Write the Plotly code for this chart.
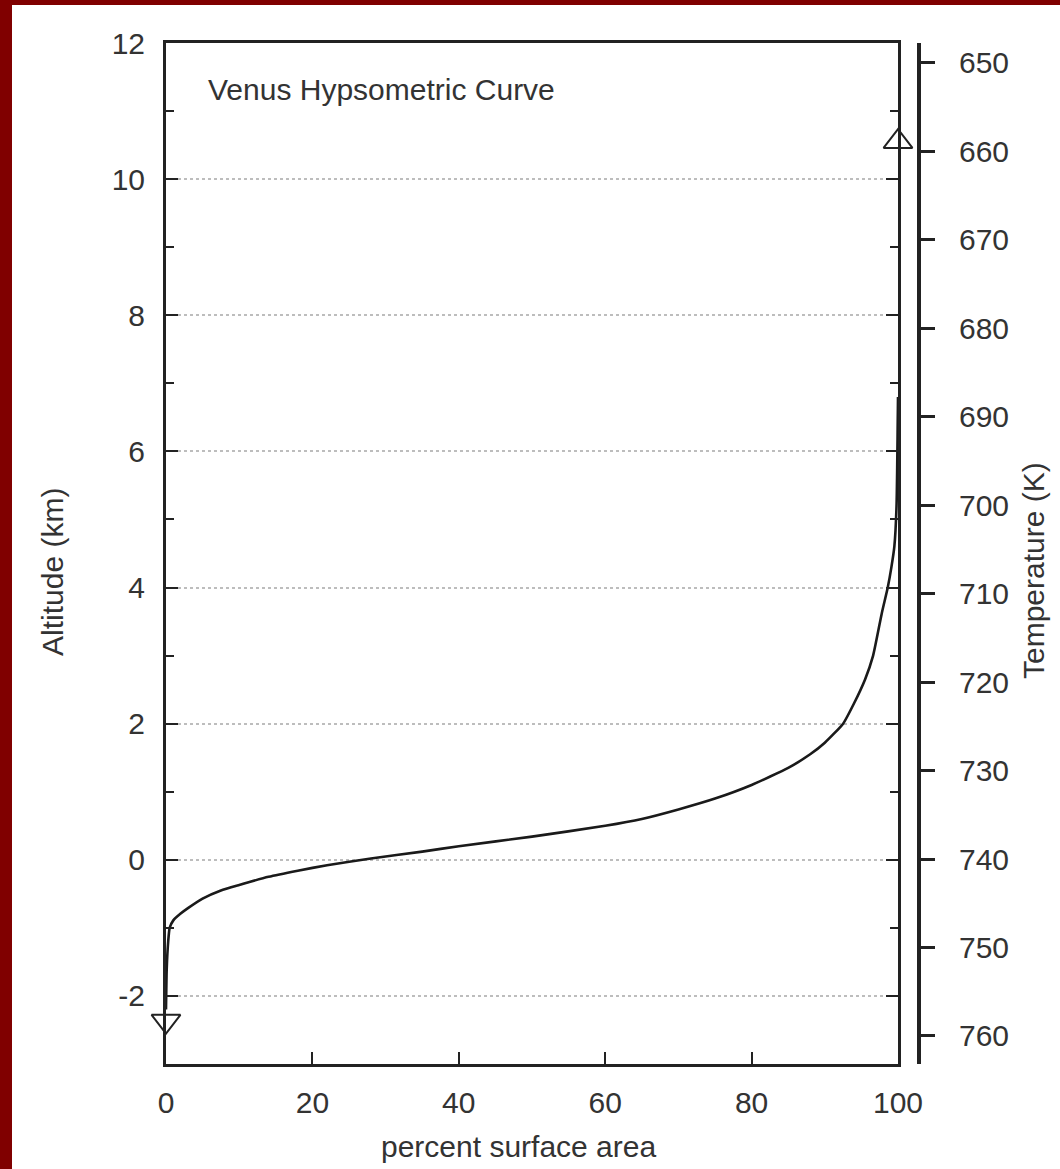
import plotly.graph_objects as go

# ---- data ----
pct_area = [0, 0.1, 0.3, 0.5, 1, 2, 3, 5, 7.5, 10, 14, 18, 22, 28, 35, 40, 50, 60, 65, 70,
            75, 80, 85, 88, 90, 92.5, 94, 95.5, 96.6, 97.8, 98.6, 99.1, 99.5, 99.8, 100]
altitude = [-2.2, -1.6, -1.2, -1.0, -0.89, -0.79, -0.71, -0.57, -0.45, -0.37, -0.25, -0.16,
            -0.08, 0.02, 0.12, 0.2, 0.34, 0.5, 0.6, 0.74, 0.9, 1.1, 1.35, 1.55, 1.72, 2.0,
            2.3, 2.65, 3.0, 3.63, 4.0, 4.3, 4.6, 5.2, 6.8]
min_marker_x = [0]
min_marker_alt = [-2.37]
max_marker_x = [100]
max_marker_alt = [10.55]
alt_ticks = [-2, 0, 2, 4, 6, 8, 10, 12]
alt_tick_labels = ["-2", "0", "2", "4", "6", "8", "10", "12"]
pct_ticks = [0, 20, 40, 60, 80, 100]
temp_ticks = [650, 660, 670, 680, 690, 700, 710, 720, 730, 740, 750, 760]
temp_range = [763.17, 647.74]   # temperature axis (K), reversed
alt_range = [-3, 12]

# ---- layout geometry (pixels) ----
W, H = 1060, 1169
L, R, T, B = 166, 898, 43, 1064
R2 = 919                      # temperature axis line
pw, ph = R2 - L, B - T

def px(x):
    return (x - L) / pw

def py(y):
    return (B - y) / ph

FONT = "Liberation Sans, Arial, sans-serif"
FS = 30
TXT = "#333333"
AX = "#222222"

fig = go.Figure()

fig.add_trace(go.Scatter(x=pct_area, y=altitude, mode="lines",
                         line=dict(color="#1a1a1a", width=2.6, shape="spline", smoothing=0.5),
                         cliponaxis=False, showlegend=False, hoverinfo="skip"))
fig.add_trace(go.Scatter(x=min_marker_x, y=min_marker_alt, mode="markers",
                         marker=dict(symbol="triangle-down", size=25, color="white",
                                     line=dict(color=AX, width=2)),
                         cliponaxis=False, showlegend=False))
fig.add_trace(go.Scatter(x=max_marker_x, y=max_marker_alt, mode="markers",
                         marker=dict(symbol="triangle-up", size=25, color="white",
                                     line=dict(color=AX, width=2)),
                         cliponaxis=False, showlegend=False))
# invisible trace to carry the temperature axis
fig.add_trace(go.Scatter(x=[50, 50], y=temp_range, yaxis="y2", mode="lines",
                         line=dict(width=0), opacity=0, showlegend=False, hoverinfo="skip"))

fig.update_layout(
    width=W, height=H,
    margin=dict(l=L, r=W - R2, t=T, b=H - B, pad=0),
    paper_bgcolor="#800000",
    plot_bgcolor="rgba(0,0,0,0)",
    font=dict(family=FONT, size=FS, color=TXT),
    xaxis=dict(domain=[0, (R - L) / pw], range=[0, 100], tickvals=pct_ticks,
               ticks="inside", ticklen=12,
               tickwidth=2, tickcolor=AX, showline=True, linewidth=3, linecolor=AX,
               mirror=True, showgrid=False, zeroline=False, ticklabelstandoff=10,
               tickfont=dict(size=FS, color=TXT)),
    yaxis=dict(range=alt_range, tickvals=alt_ticks, ticktext=alt_tick_labels,
               ticks="inside", ticklen=12,
               tickwidth=2, tickcolor=AX, showline=True, linewidth=3, linecolor=AX,
               mirror="ticks", showgrid=True, gridcolor="#bdbdbd", griddash="dot",
               gridwidth=2, zeroline=False, ticklabelstandoff=12,
               minor=dict(dtick=1, tick0=0, ticks="inside", ticklen=8, tickwidth=2,
                          tickcolor=AX, showgrid=False),
               tickfont=dict(size=FS, color=TXT)),
    yaxis2=dict(range=temp_range, overlaying="y", side="right", anchor="free",
                position=1.0, tickvals=temp_ticks, ticks="outside", ticklen=14,
                tickwidth=3, tickcolor=AX, showline=True, linewidth=4, linecolor=AX,
                showgrid=False, zeroline=False, ticklabelstandoff=18,
                tickfont=dict(size=FS, color=TXT)),
    shapes=[dict(type="rect", xref="paper", yref="paper", layer="below",
                 x0=px(12), x1=px(1100), y0=py(1200), y1=py(5),
                 fillcolor="white", line=dict(width=0))],
    annotations=[
        dict(text="Venus Hypsometric Curve", xref="paper", yref="paper",
             x=px(206), y=py(90), xanchor="left", yanchor="middle",
             showarrow=False, font=dict(size=FS, color=TXT)),
        dict(text="Altitude (km)", xref="paper", yref="paper",
             x=px(52), y=py(572), xanchor="center", yanchor="middle", textangle=-90,
             showarrow=False, font=dict(size=FS, color=TXT)),
        dict(text="Temperature (K)", xref="paper", yref="paper",
             x=px(1033), y=py(571), xanchor="center", yanchor="middle", textangle=-90,
             showarrow=False, font=dict(size=FS, color=TXT)),
        dict(text="percent surface area", xref="paper", yref="paper",
             x=px(518), y=py(1146), xanchor="center", yanchor="middle",
             showarrow=False, font=dict(size=FS, color=TXT)),
    ],
)

fig.write_html("out.html")
